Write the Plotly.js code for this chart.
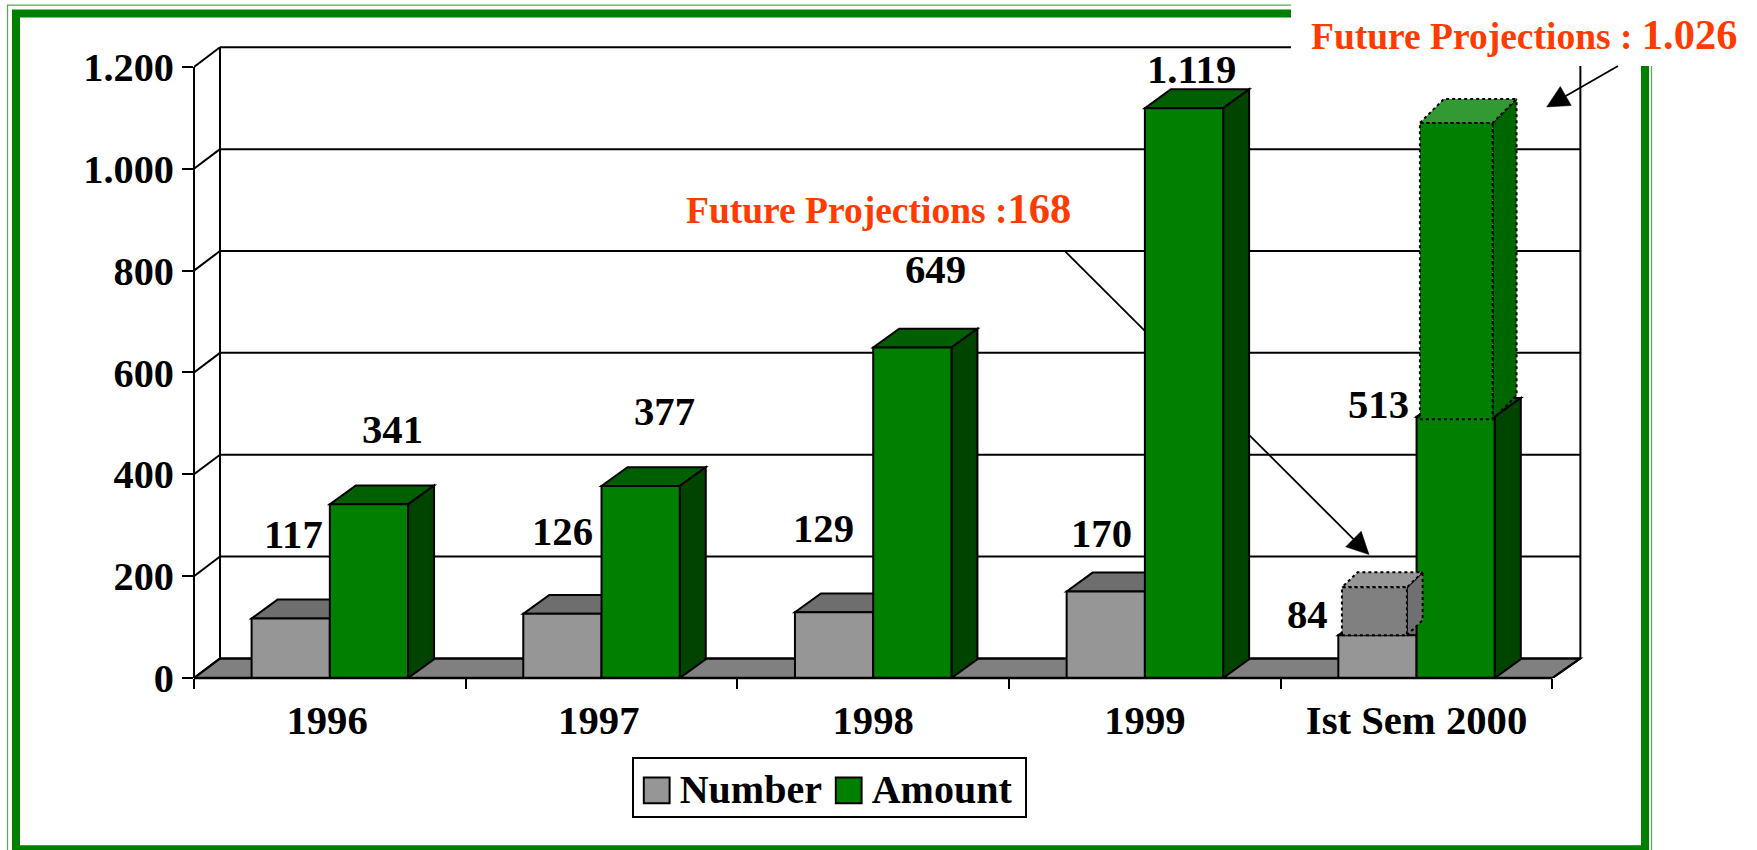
<!DOCTYPE html>
<html>
<head>
<meta charset="utf-8">
<script src="https://cdn.plot.ly/plotly-3.0.1.min.js"></script>
<style>html,body{margin:0;padding:0;background:#fff}#chart{width:1757px;height:850px}</style>
</head>
<body>
<div id="chart"></div>
<script>
// ---- data ----
const categories = ['1996', '1997', '1998', '1999', 'Ist Sem 2000'];
const numberValues = [117, 126, 129, 170, 84];
const amountValues = [341, 377, 649, 1119, 513];
const numberLabels = ['117', '126', '129', '170', '84'];
const amountLabels = ['341', '377', '649', '1.119', '513'];
const projectedNumberTop = 178;   // drawn height of the dotted box
const projectedAmountTop = 1090;  // drawn height of the dotted box
const projectionNumberText = '168';
const projectionAmountText = '1.026';

// ---- geometry and style ----
const W = 1757, H = 850;
const plot = {l: 194, r: 1585, t: 44, b: 678.5};
const xMax = 5.12, yMax = 1245;
const P = x => (x - plot.l) / (plot.r - plot.l);   // page px -> paper x
const Q = y => (plot.b - y) / (plot.b - plot.t);   // page px -> paper y
const font = {family: '"Liberation Serif", "Times New Roman", serif', weight: 700, color: '#000'};
const F = s => Object.assign({}, font, {size: s});
const RED = '#ff3c00';
const C = {gF: '#969696', gT: '#6e6e6e', gS: '#555555', aF: '#007f00', aT: '#005f00', aS: '#004400', floor: '#808080'};
const LW = 2;
const black = {color: '#000', width: LW};
const barW = 0.288, barGap = 1 - 2 * barW, dDX = 0.0957, dDY = 37;
const wallL = 0.0957, wallR = 5.103, wallDY = 38.5;

const shapes = [];
const line = (x0, y0, x1, y1, layer, ln, ref) => shapes.push(Object.assign({type: 'line', x0, y0, x1, y1, layer, line: ln || black}, ref || {xref: 'x', yref: 'y'}));
const paper = {xref: 'paper', yref: 'paper'};
const poly = (pts, fill, layer, ln, ref) => shapes.push(Object.assign({
  type: 'path', path: 'M' + pts.map(p => p[0] + ',' + p[1]).join('L') + 'Z', fillcolor: fill, layer, line: ln || black
}, ref || {xref: 'x', yref: 'y'}));

// outer frame
const pageRect = (x0, y0, x1, y1, color, width) => shapes.push(Object.assign({type: 'rect', x0: P(x0), y0: Q(y0), x1: P(x1), y1: Q(y1), layer: 'below', line: {color, width}, fillcolor: 'rgba(0,0,0,0)'}, paper));
pageRect(7.5, 5, 1651.5, 870, '#5aa85a', 1.3);
pageRect(16, 13.5, 1645, 850, '#008000', 8);

// leader behind the bars
function arrow(x0, y0, x1, y1, layer) {
  const a = Math.atan2(y1 - y0, x1 - x0), L = 22, w = 11;
  const bx = x1 - L * Math.cos(a), by = y1 - L * Math.sin(a);
  line(P(x0), Q(y0), P(bx), Q(by), layer, {color: '#000', width: 1.8}, paper);
  poly([[P(x1), Q(y1)], [P(bx - w * Math.sin(a)), Q(by + w * Math.cos(a))], [P(bx + w * Math.sin(a)), Q(by - w * Math.cos(a))]],
    '#000', layer, {color: '#000', width: 0.5}, paper);
}
arrow(1065.6, 252, 1369, 555, 'below');

// floor, walls, gridlines
poly([[0, 0], [5, 0], [wallR, wallDY], [wallL, wallDY]], C.floor, 'below');
[0, 200, 400, 600, 800, 1000, 1200].forEach(v => {
  line(0, v, wallL, v + wallDY, 'below');
  line(wallL, v + wallDY, wallR, v + wallDY, 'below');
});
line(wallL, wallDY, wallL, 1200 + wallDY, 'below');
line(wallR, wallDY, wallR, 1200 + wallDY, 'below');
line(P(plot.l), Q(plot.b), P(plot.l), 1200 / yMax, 'below', black, paper);
line(5, 0, wallR, wallDY, 'below');

// tops and sides of the solid bars
categories.forEach((c, i) => {
  const n = numberValues[i], a = amountValues[i];
  const l = i + 0.5 - barW, m = i + 0.5, r = i + 0.5 + barW;
  poly([[m, 0], [m + dDX, dDY], [m + dDX, n + dDY], [m, n]], C.gS, 'below');
  poly([[l, n], [m, n], [m + dDX, n + dDY], [l + dDX, n + dDY]], C.gT, 'below');
  poly([[m, a], [r, a], [r + dDX, a + dDY], [m + dDX, a + dDY]], C.aT, 'below');
  poly([[r, 0], [r + dDX, dDY], [r + dDX, a + dDY], [r, a]], C.aS, i === 4 ? 'above' : 'below');
});
// baseline
line(P(plot.l), 0, P(plot.l + 5 * (plot.r - plot.l) / xMax), 0, 'above', {color: '#000', width: 2.4}, {xref: 'paper', yref: 'paper'});

// white box behind the top-right note
shapes.push(Object.assign({type: 'rect', x0: P(1291), x1: P(W + 5), y0: Q(-5), y1: Q(66), layer: 'above', fillcolor: '#fff', line: {width: 0}}, paper));
arrow(1618, 66, 1546.7, 107, 'above');

// ---- traces ----
const xCentres = categories.map((c, i) => i + 0.5);
const labelTicks = [0.49, 1.49, 2.5, 3.5, 4.5];
const traces = [
  {type: 'bar', name: 'Number', x: xCentres, y: numberValues, marker: {color: C.gF, line: black}, hoverinfo: 'y'},
  {type: 'bar', name: 'Amount', x: xCentres, y: amountValues, marker: {color: C.aF, line: black}, hoverinfo: 'y'}
];
const dotted = {color: '#000', width: 2, dash: 'dot'};
function box(i, xa, xb, base, top, dx, dy, front, side, upper) {
  const l = i + xa, r = i + xb;
  const face = (pts, col) => traces.push({
    type: 'scatter', mode: 'lines', x: pts.map(p => p[0]).concat(pts[0][0]), y: pts.map(p => p[1]).concat(pts[0][1]),
    fill: 'toself', fillcolor: col, line: dotted, showlegend: false, hoverinfo: 'skip'
  });
  face([[r, base], [r + dx, base + dy], [r + dx, top + dy], [r, top]], side);
  face([[l, top], [r, top], [r + dx, top + dy], [l + dx, top + dy]], upper);
  face([[l, base], [r, base], [r, top], [l, top]], front);
}
box(4, 0.2252, 0.4645, numberValues[4], projectedNumberTop, 0.0578, 29.5, '#808080', '#707070', '#969696');
box(4, 0.5123, 0.7799, amountValues[4] - 5, projectedAmountTop, 0.0883, 47, '#007f00', '#006600', '#339933');

// ---- value labels ----
const numDx = [3, 0, -10.5, -4.3, -69.5], numDy = [83.5, 82.3, 84.3, 57.8, 21.2];
const amtDx = [24, 23.8, 23.2, 7.9, -76.8], amtDy = [74.4, 74.5, 78.5, 38.6, 11.8];
const annotations = [];
categories.forEach((c, i) => {
  annotations.push({x: i + 0.5 - barW / 2, y: numberValues[i], xref: 'x', yref: 'y', text: numberLabels[i], showarrow: false, xshift: numDx[i], yshift: numDy[i], font: F(40.7), xanchor: 'center', yanchor: 'middle'});
  annotations.push({x: i + 0.5 + barW / 2, y: amountValues[i], xref: 'x', yref: 'y', text: amountLabels[i], showarrow: false, xshift: amtDx[i], yshift: amtDy[i], font: F(40.7), xanchor: 'center', yanchor: 'middle'});
});
const note = (x, y, num) => annotations.push({
  x: P(x), y: Q(y), xref: 'paper', yref: 'paper', xanchor: 'left', yanchor: 'middle', showarrow: false,
  text: 'Future Projections :' + (num.length > 3 ? ' ' : '') + '<span style="font-size:42.5px">' + num + '</span>',
  font: Object.assign({}, font, {size: 37.5, color: RED})
});
note(1309, 34, projectionAmountText);
note(684, 209, projectionNumberText);

const layout = {
  width: W, height: H, autosize: false,
  paper_bgcolor: '#fff', plot_bgcolor: 'rgba(0,0,0,0)',
  margin: {l: plot.l, r: W - plot.r, t: plot.t, b: H - plot.b, pad: 0, autoexpand: false},
  separators: ',.',
  barmode: 'group', bargap: barGap, bargroupgap: 0,
  xaxis: {
    type: 'linear', range: [0, xMax], fixedrange: true, showgrid: false, zeroline: false, showline: false,
    tickmode: 'array', tickvals: labelTicks, ticktext: categories, ticks: '', ticklen: 0,
    tickfont: F(40.7), ticklabelstandoff: 14,
    minor: {tickmode: 'array', tickvals: [0, 1, 2, 3, 4, 5], ticks: 'outside', ticklen: 10, tickwidth: 1.6, tickcolor: '#000', showgrid: false}
  },
  yaxis: {
    type: 'linear', range: [0, yMax], fixedrange: true, showgrid: false, zeroline: false, showline: false,
    tickmode: 'array', tickvals: [0, 200, 400, 600, 800, 1000, 1200], tickformat: ',d',
    ticks: 'outside', ticklen: 11, tickwidth: 1.6, tickcolor: '#000', tickfont: F(40.3)
  },
  showlegend: true,
  legend: {
    orientation: 'h', x: P(631.7), y: Q(753), xanchor: 'left', yanchor: 'top',
    itemwidth: 36, entrywidth: 141, entrywidthmode: 'pixels',
    bgcolor: 'rgba(0,0,0,0)', bordercolor: '#000', borderwidth: 2, font: F(40), traceorder: 'normal', itemclick: false, itemdoubleclick: false
  },
  shapes, annotations
};

Plotly.newPlot('chart', traces, layout, {displayModeBar: false, responsive: false}).then(gd => {
  // the reference legend has larger swatches and a tighter box than Plotly's default
  gd.querySelectorAll('.legend .legendpoints path').forEach(p => {
    p.setAttribute('vector-effect', 'non-scaling-stroke');
    p.setAttribute('transform', 'translate(0,3.4) ' + (p.getAttribute('transform') || '') + ' scale(2.15)');
  });
  const bg = gd.querySelector('.legend rect.bg');
  if (bg) { bg.setAttribute('y', 6); bg.setAttribute('height', 59); bg.setAttribute('width', 393.3); }
});
</script>
</body>
</html>
